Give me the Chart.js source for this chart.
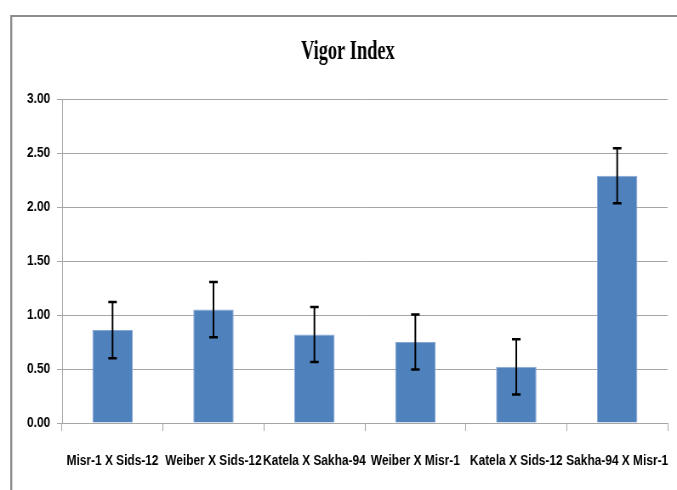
<!DOCTYPE html>
<html>
<head>
<meta charset="utf-8">
<script src="https://cdn.jsdelivr.net/npm/chart.js@4.4.0/dist/chart.umd.min.js"></script>
<style>
  html, body { margin: 0; padding: 0; background: #fff; overflow: hidden; }
  /* the original chart is squeezed horizontally, so draw wider and compress */
  #wrap { width: 796px; height: 490px; transform: scaleX(0.8505); transform-origin: 0 0; }
</style>
</head>
<body>
<div id="wrap"><canvas id="vigorChart" width="796" height="490"></canvas></div>
<script>
const chartTitle = "Vigor Index";
const categories = ["Misr-1 X Sids-12", "Weiber X Sids-12", "Katela X Sakha-94", "Weiber X Misr-1", "Katela X Sids-12", "Sakha-94 X Misr-1"];
const vigorValues = [0.86, 1.05, 0.82, 0.75, 0.52, 2.29];
const vigorErrors = [0.26, 0.255, 0.255, 0.255, 0.255, 0.255];
const yTicks = [0, 0.5, 1, 1.5, 2, 2.5, 3];

const labelFont = { family: "'Liberation Sans', Arial, sans-serif", size: 14, weight: "bold" };

// frame around the chart, like the spreadsheet chart border
const framePlugin = {
  id: "frame",
  beforeDraw(chart) {
    const ctx = chart.ctx;
    ctx.save();
    ctx.fillStyle = "#8c8c8c";
    ctx.fillRect(12, 15, 796, 2);
    ctx.fillRect(12, 15, 2.4, 475);
    ctx.restore();
  }
};

// heavy condensed title, drawn by hand so it can be narrowed
const titlePlugin = {
  id: "condensedTitle",
  afterDraw(chart) {
    const ctx = chart.ctx;
    ctx.save();
    ctx.translate(409, 59);
    ctx.scale(0.8, 1);
    ctx.font = "bold 27px 'Liberation Serif', serif";
    ctx.fillStyle = "#000";
    ctx.textAlign = "center";
    ctx.textBaseline = "alphabetic";
    ctx.fillText(chartTitle, 0, 0);
    ctx.restore();
  }
};

// error bars drawn on top of each bar
const errorBarPlugin = {
  id: "errorBars",
  afterDatasetsDraw(chart) {
    const ctx = chart.ctx;
    const y = chart.scales.y;
    const meta = chart.getDatasetMeta(0);
    ctx.save();
    ctx.strokeStyle = "#000";
    meta.data.forEach((bar, i) => {
      const v = vigorValues[i];
      const e = vigorErrors[i];
      const top = y.getPixelForValue(v + e);
      const bottom = y.getPixelForValue(v - e);
      const x = bar.x;
      ctx.lineWidth = 2;
      ctx.beginPath();
      ctx.moveTo(x, top);
      ctx.lineTo(x, bottom);
      ctx.stroke();
      ctx.lineWidth = 2.5;
      ctx.beginPath();
      ctx.moveTo(x - 5, top);
      ctx.lineTo(x + 5, top);
      ctx.moveTo(x - 5, bottom);
      ctx.lineTo(x + 5, bottom);
      ctx.stroke();
    });
    ctx.restore();
  }
};

const ctx = document.getElementById("vigorChart").getContext("2d");
new Chart(ctx, {
  type: "bar",
  data: {
    labels: categories,
    datasets: [{
      label: chartTitle,
      data: vigorValues,
      backgroundColor: "#4f81bd",
      borderColor: "#86a6d4",
      borderWidth: 1,
      barPercentage: 0.4,
      categoryPercentage: 1.0
    }]
  },
  options: {
    responsive: false,
    animation: false,
    layout: { padding: { top: 99, left: 14, right: 11, bottom: 0 } },
    plugins: {
      legend: { display: false },
      tooltip: { enabled: false },
      title: { display: false }
    },
    scales: {
      y: {
        min: 0,
        max: 3,
        afterBuildTicks(scale) {
          scale.ticks = yTicks.map(v => ({ value: v }));
        },
        afterFit(scale) { scale.width = 59; },
        ticks: {
          color: "#000",
          font: labelFont,
          padding: 8,
          callback: v => Number(v).toFixed(2)
        },
        grid: { color: "#a6a6a6", tickLength: 6 },
        border: { color: "#a6a6a6" }
      },
      x: {
        afterFit(scale) {
          scale.height = 67;
          // labels sit inside their categories, no extra side room needed
          scale.paddingLeft = 0;
          scale.paddingRight = 0;
        },
        ticks: { color: "#000", font: labelFont, padding: 22, maxRotation: 0, autoSkip: false },
        grid: { drawOnChartArea: false, color: "#a6a6a6", tickLength: 8 },
        border: { color: "#a6a6a6" }
      }
    }
  },
  plugins: [framePlugin, errorBarPlugin, titlePlugin]
});
</script>
</body>
</html>
